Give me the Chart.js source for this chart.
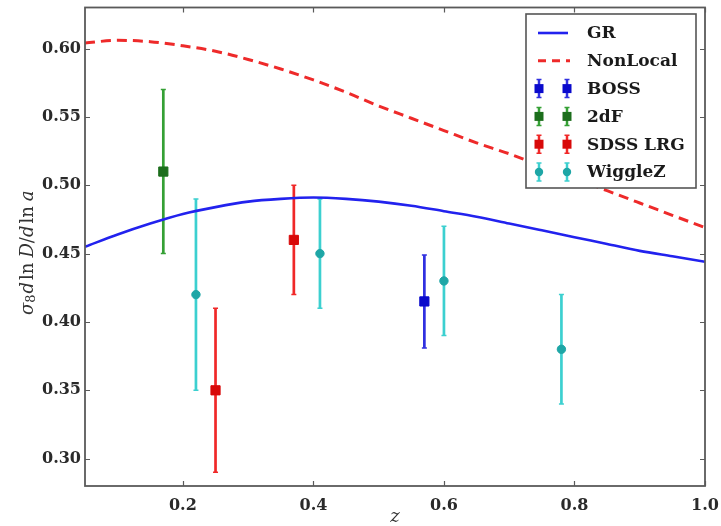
<!DOCTYPE html>
<html>
<head>
<meta charset="utf-8">
<script src="https://cdn.jsdelivr.net/npm/chart.js@4.4.1/dist/chart.umd.min.js"></script>
<style>
  html, body { margin: 0; padding: 0; background: #ffffff; }
  #wrap { width: 721px; height: 526px; }
</style>
</head>
<body>
<div id="wrap"><canvas id="c" width="721" height="526"></canvas></div>
<script>
// ---------- data ----------
const zGrid = [0.05, 0.10, 0.15, 0.20, 0.25, 0.30, 0.35, 0.40, 0.45, 0.50, 0.55, 0.60, 0.65, 0.70, 0.75, 0.80, 0.85, 0.90, 0.95, 1.00];
const grValues = [0.455, 0.464, 0.472, 0.479, 0.484, 0.488, 0.490, 0.491, 0.490, 0.488, 0.485, 0.481, 0.477, 0.472, 0.467, 0.462, 0.457, 0.452, 0.448, 0.444];
const nonLocalValues = [0.604, 0.606, 0.605, 0.602, 0.598, 0.592, 0.585, 0.577, 0.568, 0.558, 0.549, 0.540, 0.531, 0.523, 0.514, 0.505, 0.496, 0.487, 0.478, 0.469];

const bossZ = [0.57];             const bossVal = [0.415];            const bossErr = [0.034];
const twodfZ = [0.17];            const twodfVal = [0.51];            const twodfErr = [0.06];
const sdssZ = [0.25, 0.37];       const sdssVal = [0.35, 0.46];       const sdssErr = [0.06, 0.04];
const wiggleZ = [0.22, 0.41, 0.60, 0.78];
const wiggleVal = [0.42, 0.45, 0.43, 0.38];
const wiggleErr = [0.07, 0.04, 0.04, 0.04];

const xTicks = [0.2, 0.4, 0.6, 0.8, 1.0];
const yTicks = [0.30, 0.35, 0.40, 0.45, 0.50, 0.55, 0.60];

const seriesNames = ['GR', 'NonLocal', 'BOSS', '2dF', 'SDSS LRG', 'WiggleZ'];

// ---------- styles ----------
const SERIF = "'DejaVu Serif', 'Liberation Serif', serif";
const styles = {
  GR: { line: '#2222ee' },
  NonLocal: { line: '#ee2a2a' },
  BOSS: { marker: '#0a0acc', bar: '#3030e0', shape: 'rect' },
  '2dF': { marker: '#1c6e1c', bar: '#35a035', shape: 'rect' },
  'SDSS LRG': { marker: '#d80a0a', bar: '#f02828', shape: 'rect' },
  WiggleZ: { marker: '#1ea6a6', bar: '#3cd0d0', shape: 'circle' }
};

const toXY = (xs, ys) => xs.map((x, i) => ({ x: x, y: ys[i] }));
const pointSets = [
  { name: 'BOSS', z: bossZ, v: bossVal, e: bossErr },
  { name: '2dF', z: twodfZ, v: twodfVal, e: twodfErr },
  { name: 'SDSS LRG', z: sdssZ, v: sdssVal, e: sdssErr },
  { name: 'WiggleZ', z: wiggleZ, v: wiggleVal, e: wiggleErr }
];

const datasets = [];
pointSets.forEach(ps => {
  const st = styles[ps.name];
  datasets.push({
    label: ps.name,
    data: toXY(ps.z, ps.v),
    showLine: false,
    pointStyle: st.shape,
    pointRadius: st.shape === 'rect' ? 6.5 : 4.2,
    pointBackgroundColor: st.marker,
    pointBorderColor: st.marker,
    pointBorderWidth: 1,
    order: 0,
    errs: ps.e,
    barColor: st.bar
  });
});
datasets.push({
  label: 'GR', data: toXY(zGrid, grValues), showLine: true, borderColor: styles.GR.line,
  borderWidth: 2.6, pointRadius: 0, cubicInterpolationMode: 'monotone', order: 1
});
datasets.push({
  label: 'NonLocal', data: toXY(zGrid, nonLocalValues), showLine: true, borderColor: styles.NonLocal.line,
  borderWidth: 3, borderDash: [10, 6], pointRadius: 0, cubicInterpolationMode: 'monotone', order: 1
});

// ---------- plugins ----------
const errorBars = {
  id: 'errorBars',
  beforeDatasetsDraw(chart) {
    const ctx = chart.ctx, xs = chart.scales.x, ys = chart.scales.y;
    ctx.save();
    chart.data.datasets.forEach(ds => {
      if (!ds.errs) return;
      ctx.strokeStyle = ds.barColor;
      ds.data.forEach((p, i) => {
        const px = xs.getPixelForValue(p.x);
        const top = ys.getPixelForValue(p.y + ds.errs[i]);
        const bot = ys.getPixelForValue(p.y - ds.errs[i]);
        ctx.lineWidth = 2.7;
        ctx.beginPath();
        ctx.moveTo(px, top); ctx.lineTo(px, bot);
        ctx.stroke();
        ctx.lineWidth = 1.5;
        ctx.beginPath();
        ctx.moveTo(px - 2.5, top); ctx.lineTo(px + 2.5, top);
        ctx.moveTo(px - 2.5, bot); ctx.lineTo(px + 2.5, bot);
        ctx.stroke();
      });
    });
    ctx.restore();
  }
};

const frameAndTicks = {
  id: 'frameAndTicks',
  afterDatasetsDraw(chart) {
    const ctx = chart.ctx, a = chart.chartArea, xs = chart.scales.x, ys = chart.scales.y;
    ctx.save();
    ctx.strokeStyle = '#5a5a5a';
    ctx.lineWidth = 1.2;
    const L = 5;
    ctx.beginPath();
    xTicks.forEach(v => {
      const px = Math.round(xs.getPixelForValue(v)) + 0.5;
      ctx.moveTo(px, a.bottom); ctx.lineTo(px, a.bottom - L);
      ctx.moveTo(px, a.top); ctx.lineTo(px, a.top + L);
    });
    yTicks.forEach(v => {
      const py = Math.round(ys.getPixelForValue(v)) + 0.5;
      ctx.moveTo(a.left, py); ctx.lineTo(a.left + L, py);
      ctx.moveTo(a.right, py); ctx.lineTo(a.right - L, py);
    });
    ctx.stroke();
    ctx.lineWidth = 1.8;
    ctx.strokeRect(a.left, a.top, a.right - a.left, a.bottom - a.top);
    ctx.restore();
  }
};

const legendAndTitles = {
  id: 'legendAndTitles',
  afterDraw(chart) {
    const ctx = chart.ctx, a = chart.chartArea;
    ctx.save();
    // legend box
    const bx = 526, by = 14, bw = 170, bh = 174;
    ctx.fillStyle = '#ffffff';
    ctx.fillRect(bx, by, bw, bh);
    ctx.strokeStyle = '#555555';
    ctx.lineWidth = 1.6;
    ctx.strokeRect(bx, by, bw, bh);
    const rowY0 = 33, rowStep = 27.8;
    const hx1 = 538, hx2 = 568, tx = 587;
    ctx.font = 'bold 17px ' + SERIF;
    ctx.textBaseline = 'middle';
    ctx.textAlign = 'left';
    seriesNames.forEach((name, i) => {
      const y = rowY0 + i * rowStep;
      const st = styles[name];
      if (name === 'GR' || name === 'NonLocal') {
        ctx.strokeStyle = st.line;
        ctx.lineWidth = name === 'GR' ? 2.6 : 3;
        ctx.setLineDash(name === 'NonLocal' ? [8, 6] : []);
        ctx.beginPath();
        ctx.moveTo(hx1, y); ctx.lineTo(name === 'NonLocal' ? hx2 + 2 : hx2, y);
        ctx.stroke();
        ctx.setLineDash([]);
      } else {
        [hx1 + 1, hx2 - 1].forEach(px => {
          ctx.strokeStyle = st.bar;
          ctx.lineWidth = 2.5;
          ctx.beginPath();
          ctx.moveTo(px, y - 9); ctx.lineTo(px, y + 9);
          ctx.stroke();
          ctx.lineWidth = 1.5;
          ctx.beginPath();
          ctx.moveTo(px - 2.5, y - 9); ctx.lineTo(px + 2.5, y - 9);
          ctx.moveTo(px - 2.5, y + 9); ctx.lineTo(px + 2.5, y + 9);
          ctx.stroke();
          ctx.fillStyle = st.marker;
          ctx.beginPath();
          if (st.shape === 'rect') ctx.rect(px - 4.5, y - 4.5, 9, 9);
          else ctx.arc(px, y, 4.2, 0, Math.PI * 2);
          ctx.fill();
        });
      }
      ctx.fillStyle = '#1a1a1a';
      ctx.fillText(name, tx, y + 1);
    });

    // x title
    ctx.fillStyle = '#333333';
    ctx.font = 'italic 18px ' + SERIF;
    ctx.textAlign = 'center';
    ctx.textBaseline = 'middle';
    ctx.fillText('z', (a.left + a.right) / 2, 517);

    // y title: σ8 d ln D / d ln a
    const segs = [
      { t: 'σ', f: 'italic 18px ' + SERIF, dy: 0 },
      { t: '8', f: '13px ' + SERIF, dy: 4 },
      { t: 'd', f: 'italic 18px ' + SERIF, dy: 0, pre: 1 },
      { t: 'ln', f: '18px ' + SERIF, dy: 0, pre: 2 },
      { t: 'D', f: 'italic 18px ' + SERIF, dy: 0, pre: 5 },
      { t: '/', f: '18px ' + SERIF, dy: 0 },
      { t: 'd', f: 'italic 18px ' + SERIF, dy: 0 },
      { t: 'ln', f: '18px ' + SERIF, dy: 0, pre: 2 },
      { t: 'a', f: 'italic 18px ' + SERIF, dy: 0, pre: 5 }
    ];
    let total = 0;
    segs.forEach(s => { ctx.font = s.f; s.w = ctx.measureText(s.t).width; total += s.w + (s.pre || 0); });
    ctx.translate(28, (a.top + a.bottom) / 2 + 6);
    ctx.rotate(-Math.PI / 2);
    ctx.textAlign = 'left';
    ctx.textBaseline = 'middle';
    let cx = -total / 2;
    segs.forEach(s => {
      cx += (s.pre || 0);
      ctx.font = s.f;
      ctx.fillText(s.t, cx, s.dy);
      cx += s.w;
    });
    ctx.restore();
  }
};

// ---------- chart ----------
new Chart(document.getElementById('c'), {
  type: 'scatter',
  data: { datasets: datasets },
  options: {
    responsive: false,
    animation: false,
    devicePixelRatio: 1,
    layout: { padding: { top: 7, right: 16, left: 0, bottom: 0 } },
    plugins: { legend: { display: false }, tooltip: { enabled: false } },
    scales: {
      x: {
        type: 'linear', min: 0.05, max: 1.0,
        grid: { display: false, drawTicks: false },
        border: { display: false },
        afterBuildTicks: s => { s.ticks = xTicks.map(v => ({ value: v })); },
        afterFit: s => { s.height = 40; s.paddingLeft = 0; s.paddingRight = 0; },
        ticks: {
          padding: 10, color: '#2a2a2a', font: { family: SERIF, size: 16, weight: 'bold' },
          callback: v => Number(v).toFixed(1), maxRotation: 0, autoSkip: false
        }
      },
      y: {
        type: 'linear', min: 0.28, max: 0.63,
        grid: { display: false, drawTicks: false },
        border: { display: false },
        afterBuildTicks: s => { s.ticks = yTicks.map(v => ({ value: v })); },
        afterFit: s => { s.width = 85; s.paddingTop = 0; s.paddingBottom = 0; },
        ticks: {
          padding: 4, color: '#2a2a2a', font: { family: SERIF, size: 16, weight: 'bold' },
          callback: v => Number(v).toFixed(2), autoSkip: false
        }
      }
    }
  },
  plugins: [errorBars, frameAndTicks, legendAndTitles]
});
</script>
</body>
</html>
